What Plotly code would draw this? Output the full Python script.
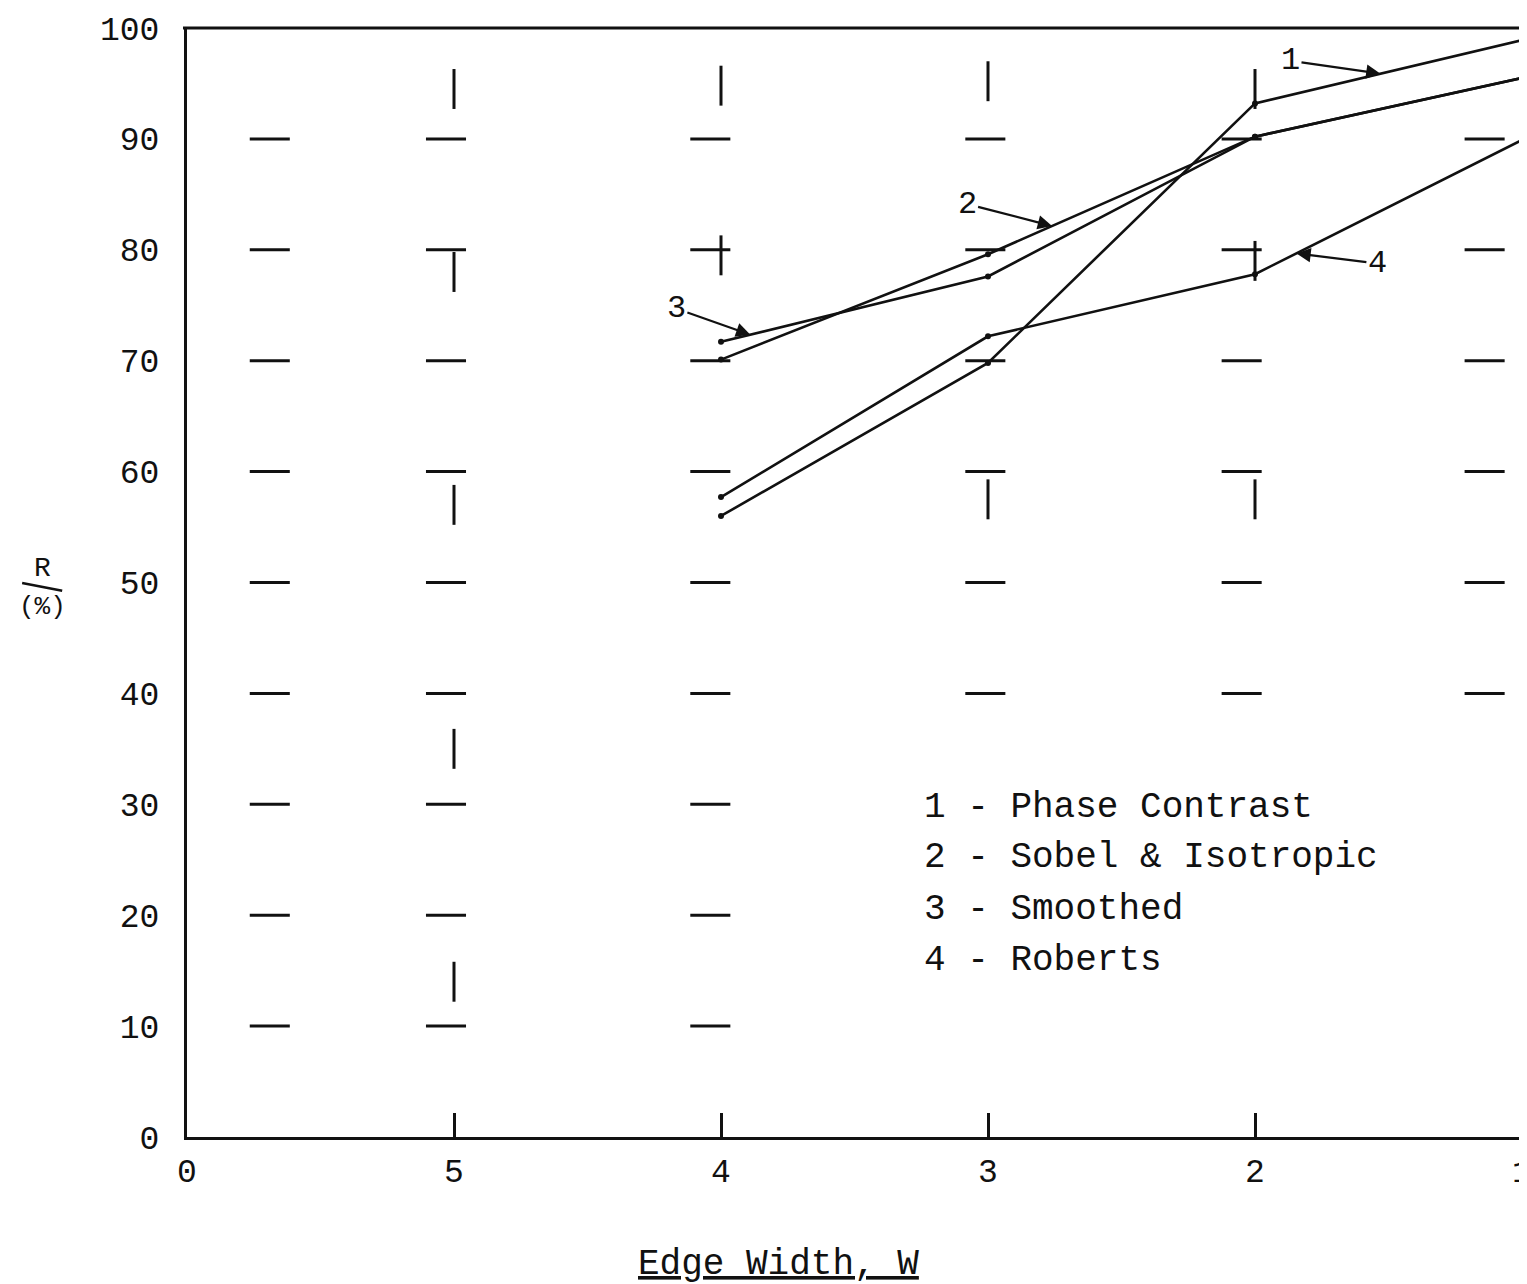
import plotly.graph_objects as go

# ---------------- data ----------------
x_tick_pos = [0, 1, 2, 3, 4, 5]
x_tick_labels = ["0", "5", "4", "3", "2", "1"]
y_ticks = [0, 10, 20, 30, 40, 50, 60, 70, 80, 90, 100]

edge_pos = [2, 3, 4, 5]          # edge width W = 4, 3, 2, 1
series_names = ["Phase Contrast", "Sobel & Isotropic", "Smoothed", "Roberts"]
phase_contrast = [56.0, 69.8, 93.2, 98.9]
sobel_isotropic = [70.1, 79.6, 90.2, 95.5]
smoothed = [71.7, 77.6, 90.2, 95.5]
roberts = [57.7, 72.2, 77.8, 89.9]
series_values = [phase_contrast, sobel_isotropic, smoothed, roberts]

# hand-drawn grid marks of the original chart
dash_columns = [0.31, 0.97, 1.96, 2.99, 3.95, 4.86]
dash_levels_low = [10, 20, 30, 40, 50, 60, 70, 80, 90]
dash_levels_high = [40, 50, 60, 70, 80, 90]
vmark_x = [1, 1, 1, 1, 1, 2, 2, 3, 3, 4, 4, 4]
vmark_y = [94.5, 78, 57, 35, 14, 94.8, 79.5, 95.2, 57.5, 94.5, 79, 57.5]

# label callouts: (series index, segment index, fraction along segment, ax, ay)
callouts = [(0, 2, 0.47, -90, -13), (1, 1, 0.24, -85, -22),
            (2, 0, 0.11, -74, -26), (3, 2, 0.155, 81, 10)]

FONT = "Liberation Mono"
INK = "#111111"

fig = go.Figure()

# grid dashes
gx, gy = [], []
for i, c in enumerate(dash_columns):
    levels = dash_levels_low if i < 3 else dash_levels_high
    for lv in levels:
        gx += [c - 0.075, c + 0.075, None]
        gy += [lv, lv, None]
fig.add_trace(go.Scatter(x=gx, y=gy, mode="lines", line=dict(color=INK, width=3),
                         hoverinfo="skip", showlegend=False))
vx, vy = [], []
for xv, yv in zip(vmark_x, vmark_y):
    vx += [xv, xv, None]
    vy += [yv - 1.8, yv + 1.8, None]
fig.add_trace(go.Scatter(x=vx, y=vy, mode="lines", line=dict(color=INK, width=3),
                         hoverinfo="skip", showlegend=False))

# data series
for name, vals in zip(series_names, series_values):
    fig.add_trace(go.Scatter(x=edge_pos, y=vals, mode="lines+markers", name=name,
                             line=dict(color=INK, width=2.6),
                             marker=dict(color=INK, size=6),
                             cliponaxis=False, showlegend=False))

# numbered callouts
for k, (si, seg, t, ax, ay) in enumerate(callouts):
    vals = series_values[si]
    hx = edge_pos[seg] + t * (edge_pos[seg + 1] - edge_pos[seg])
    hy = vals[seg] + t * (vals[seg + 1] - vals[seg])
    fig.add_annotation(x=hx, y=hy, ax=ax, ay=ay, text=str(si + 1), showarrow=True,
                       arrowhead=2, arrowsize=1.3, arrowwidth=2.2, arrowcolor=INK,
                       font=dict(family=FONT, size=32, color=INK))

# text legend
legend_y = [0.2967, 0.2516, 0.2047, 0.1596]
for k, name in enumerate(series_names):
    fig.add_annotation(xref="paper", yref="paper", x=0.5506, y=legend_y[k],
                       xanchor="left", yanchor="middle", showarrow=False,
                       text=f"{k + 1} - {name}",
                       font=dict(family=FONT, size=36, color=INK))

# y-axis label as fraction R/(%)
fig.add_annotation(xref="paper", yref="paper", x=-0.1086, y=0.5125, showarrow=False,
                   xanchor="center", yanchor="middle",
                   text="R", font=dict(family=FONT, size=28, color=INK))
fig.add_annotation(xref="paper", yref="paper", x=-0.1086, y=0.478, showarrow=False,
                   xanchor="center", yanchor="middle",
                   text="(%)", font=dict(family=FONT, size=26, color=INK))
fig.add_shape(type="line", xref="paper", yref="paper", x0=-0.1235, x1=-0.0935,
              y0=0.4995, y1=0.4925, line=dict(color=INK, width=2.5))

# x-axis title (underlined)
fig.add_annotation(xref="paper", yref="paper", x=0.4434, y=-0.1154,
                   xanchor="center", yanchor="middle", showarrow=False,
                   text="<u>Edge Width, W</u>", font=dict(family=FONT, size=36, color=INK))

# partial right frame line and top frame line
fig.add_shape(type="line", xref="paper", yref="paper", x0=1, x1=1, y0=0, y1=0.66,
              line=dict(color=INK, width=3))
fig.add_shape(type="line", xref="paper", yref="paper", x0=-0.003, x1=1.01, y0=1, y1=1,
              line=dict(color=INK, width=3))

# page body has an 8px margin, so the figure is sized to fit the window
fig.update_layout(
    width=1519, height=1276,
    margin=dict(l=179, r=5, t=20, b=147, autoexpand=False),
    paper_bgcolor="white", plot_bgcolor="white",
    font=dict(family=FONT, size=30, color=INK),
)
fig.update_xaxes(range=[0, 5], tickvals=x_tick_pos, ticktext=x_tick_labels,
                 showgrid=False, zeroline=False, showline=True, linecolor=INK,
                 linewidth=3, mirror=False, ticks="inside", ticklen=24, tickwidth=3,
                 tickcolor=INK, ticklabelstandoff=2, ticklabeloverflow="allow",
                 automargin=False,
                 tickfont=dict(family=FONT, size=33, color=INK))
fig.update_yaxes(range=[0, 100], tickvals=y_ticks, showgrid=False, zeroline=False,
                 showline=True, linecolor=INK, linewidth=3, ticks="",
                 ticklabelstandoff=18, ticklabeloverflow="allow", automargin=False,
                 tickfont=dict(family=FONT, size=33, color=INK))

fig.write_html("out.html")
